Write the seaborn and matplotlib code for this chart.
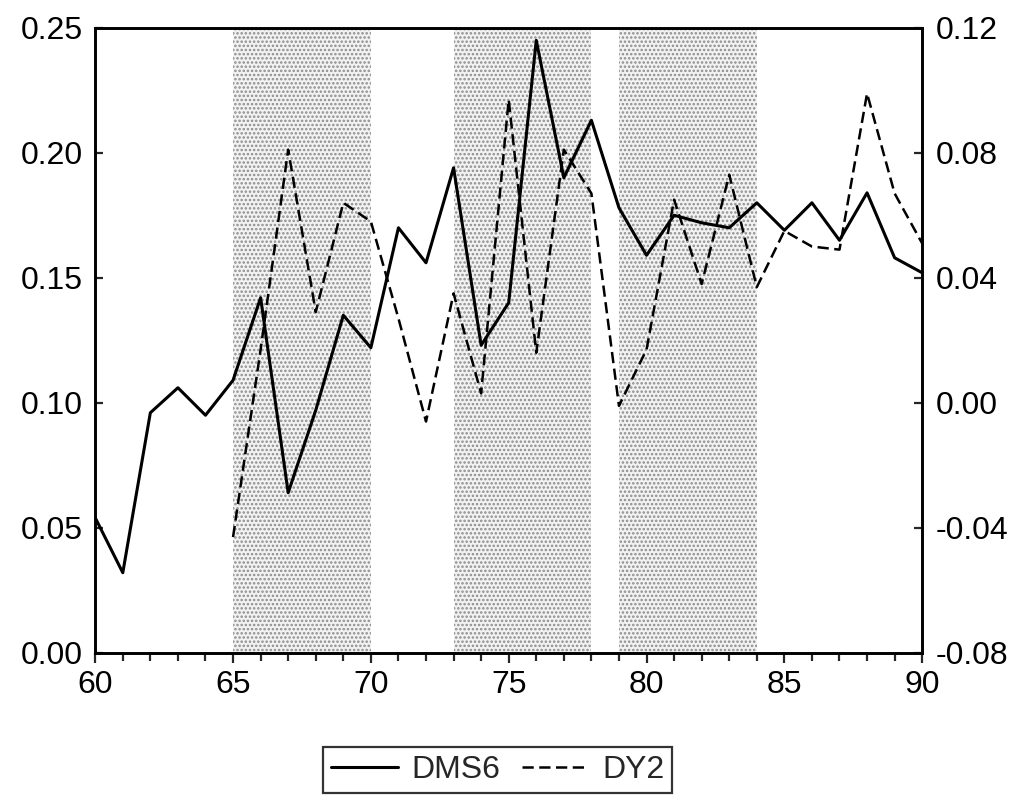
import matplotlib
matplotlib.use("Agg")
import matplotlib.pyplot as plt
from matplotlib.ticker import MultipleLocator, FormatStrFormatter
import seaborn as sns
import pandas as pd
import numpy as np

# Annual series, 1960-1990 (two-digit years)
years = list(range(60, 91))
dms6 = [0.054, 0.032, 0.096, 0.106, 0.095, 0.109, 0.142, 0.064, 0.097, 0.135,
        0.122, 0.170, 0.156, 0.194, 0.123, 0.140, 0.245, 0.190, 0.213, 0.178,
        0.159, 0.175, 0.172, 0.170, 0.180, 0.169, 0.180, 0.165, 0.184, 0.158,
        0.152]
dy2_years = list(range(65, 91))
dy2 = [-0.043, 0.017, 0.081, 0.029, 0.064, 0.058, 0.027, -0.006, 0.035, 0.003,
       0.097, 0.016, 0.081, 0.067, -0.001, 0.017, 0.065, 0.038, 0.073, 0.037,
       0.055, 0.050, 0.049, 0.099, 0.067, 0.051]
# Shaded periods
spans = [(65, 70), (73, 78), (79, 84)]

sns.set_theme(style="white")
plt.rcParams["font.family"] = ["Liberation Sans", "DejaVu Sans"]
plt.rcParams["hatch.linewidth"] = 1.2

df1 = pd.DataFrame({"year": years, "value": dms6})
df2 = pd.DataFrame({"year": dy2_years, "value": dy2})

fig = plt.figure(figsize=(10.35, 7.95), dpi=100)
ax = fig.add_axes([0.092, 0.179, 0.799, 0.786])
ax2 = ax.twinx()

for a, b in spans:
    ax.axvspan(a, b, facecolor="#f2f2f2", edgecolor="#8c8c8c", hatch="....",
               linewidth=0, zorder=0)

sns.lineplot(data=df1, x="year", y="value", ax=ax, color="black",
             linewidth=2.2, label="DMS6", legend=False)
sns.lineplot(data=df2, x="year", y="value", ax=ax2, color="black",
             linewidth=1.8, linestyle=(0, (4.5, 2.2)), label="DY2", legend=False)

ax.set_xlim(60, 90)
ax.set_ylim(0.0, 0.25)
ax2.set_ylim(-0.08, 0.12)

ax.xaxis.set_major_locator(MultipleLocator(5))
ax.xaxis.set_minor_locator(MultipleLocator(1))
ax.yaxis.set_major_locator(MultipleLocator(0.05))
ax.yaxis.set_major_formatter(FormatStrFormatter("%.2f"))
ax2.yaxis.set_major_locator(MultipleLocator(0.04))
ax2.yaxis.set_major_formatter(FormatStrFormatter("%.2f"))

ax.set_xlabel("")
ax.set_ylabel("")
ax2.set_ylabel("")

ax.tick_params(axis="x", which="major", direction="out", length=7.5, width=1.6,
               labelsize=23, pad=5, bottom=True)
ax.tick_params(axis="x", which="minor", direction="out", length=5.5, width=1.6,
               bottom=True)
ax.tick_params(axis="y", direction="in", length=6, width=1.6, labelsize=23,
               left=True, pad=9)
ax2.tick_params(axis="y", direction="in", length=6, width=1.6, labelsize=23,
                right=True, pad=10)

for a in (ax, ax2):
    for s in a.spines.values():
        s.set_visible(True)
        s.set_color("black")
        s.set_linewidth(1.9)

for t in ax.get_yticklabels() + ax2.get_yticklabels() + ax.get_xticklabels():
    t.set_color("black")

h1, l1 = ax.get_legend_handles_labels()
h2, l2 = ax2.get_legend_handles_labels()
leg = fig.legend(h1 + h2, l1 + l2, loc="center", bbox_to_anchor=(0.481, 0.031),
                 ncol=2, frameon=True, fancybox=False, fontsize=23,
                 handlelength=2.1, handletextpad=0.4, columnspacing=0.7,
                 borderpad=0.25, borderaxespad=0, edgecolor="black")
leg.get_frame().set_linewidth(1.6)

fig.savefig("out.png", dpi=100, facecolor="white")
